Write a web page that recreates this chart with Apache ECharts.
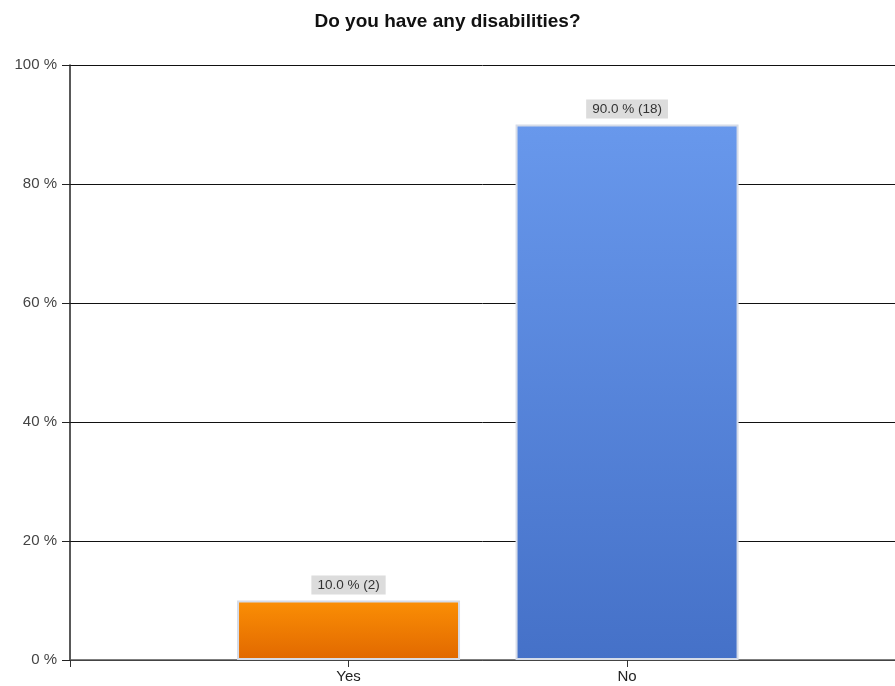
<!DOCTYPE html>
<html><head><meta charset="utf-8">
<script src="https://cdn.jsdelivr.net/npm/echarts@6/dist/echarts.min.js"></script>
<style>html,body{margin:0;padding:0;background:#fff}#c{width:895px;height:686px}</style>
</head><body><div id="c"></div>
<script>
const categories = ['Yes', 'No'];
const percents = [10.0, 90.0];
const counts = [2, 18];
const yTicks = [0, 20, 40, 60, 80, 100];
const title = 'Do you have any disabilities?';

const gradients = [
  new echarts.graphic.LinearGradient(0, 0, 0, 1, [{offset: 0, color: '#fb8f05'}, {offset: 1, color: '#e16800'}]),
  new echarts.graphic.LinearGradient(0, 0, 0, 1, [{offset: 0, color: '#6898ec'}, {offset: 1, color: '#4571c8'}])
];
const catPos = categories.map((c, i) => i + 1);

const chart = echarts.init(document.getElementById('c'));
chart.setOption({
  animation: false,
  title: {text: title, left: 'center', top: 7, textStyle: {fontFamily: 'Liberation Sans, Arial', fontSize: 19, fontWeight: 'bold', color: '#111'}},
  grid: {left: 70, right: 0, top: 65, bottom: 26},
  xAxis: {
    type: 'value', min: 0, max: 2.962, interval: 1,
    splitLine: {show: false},
    axisLine: {show: true, lineStyle: {color: '#555', width: 1.5}},
    axisTick: {show: true, length: 7, lineStyle: {color: '#333'}, customValues: [0].concat(catPos)},
    axisLabel: {fontFamily: 'Liberation Sans, Arial', fontSize: 15, color: '#222', margin: 9,
      customValues: catPos,
      formatter: v => categories[Math.round(v) - 1] || ''}
  },
  yAxis: {
    type: 'value', min: yTicks[0], max: yTicks[yTicks.length - 1], interval: 20,
    axisLine: {show: true, lineStyle: {color: '#222', width: 1.5}},
    axisTick: {show: true, length: 8, lineStyle: {color: '#222'}},
    splitLine: {show: true, lineStyle: {color: '#111', width: 1}},
    axisLabel: {fontFamily: 'Liberation Sans, Arial', fontSize: 15, color: '#444', margin: 13, formatter: v => v + ' %'}
  },
  series: [{
    type: 'bar',
    barWidth: 223,
    data: categories.map((c, i) => ({
      value: [catPos[i], percents[i]],
      itemStyle: {color: gradients[i], borderColor: '#d6dce8', borderWidth: 2},
      label: {
        show: true, position: 'top', distance: 6,
        formatter: percents[i].toFixed(1) + ' % (' + counts[i] + ')',
        fontFamily: 'Liberation Sans, Arial', fontSize: 13.5, color: '#333',
        backgroundColor: '#dcdcdc', padding: [3, 6, 2, 6]
      }
    }))
  }]
});
</script></body></html>
